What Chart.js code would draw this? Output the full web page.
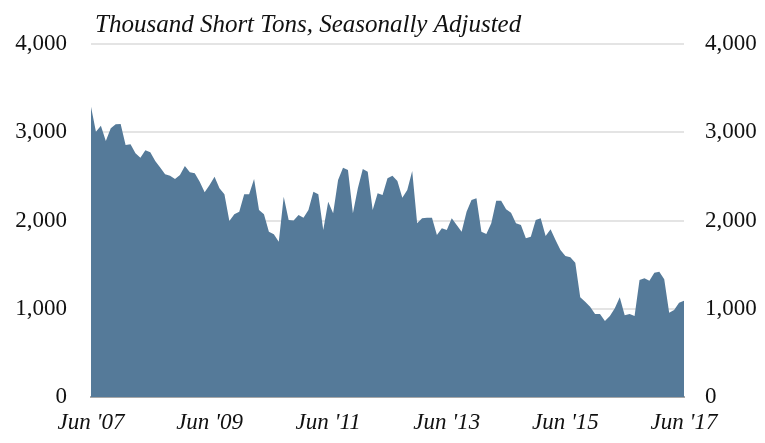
<!DOCTYPE html>
<html>
<head>
<meta charset="utf-8">
<script src="https://cdn.jsdelivr.net/npm/chart.js@4.4.1/dist/chart.umd.min.js"></script>
<style>
  html, body { margin: 0; padding: 0; background: #fff; }
  #wrap { width: 765px; height: 443px; }
</style>
</head>
<body>
<div id="wrap"><canvas id="chart" width="765" height="443"></canvas></div>
<script>
// Monthly shipments, Jun 2007 .. Jun 2017 (thousand short tons, SA)
const tons = [
  3290, 3006, 3075, 2900, 3045, 3090, 3094, 2855, 2863, 2762,
  2712, 2795, 2773, 2675, 2600, 2523, 2508, 2470, 2515, 2618,
  2546, 2535, 2440, 2320, 2402, 2496, 2365, 2297, 1994, 2070,
  2100, 2297, 2297, 2470, 2119, 2070, 1873, 1843, 1760, 2270,
  2005, 2000, 2062, 2032, 2119, 2326, 2297, 1892, 2213, 2082,
  2459, 2598, 2572, 2082, 2365, 2584, 2553, 2119, 2308, 2289,
  2478, 2508, 2448, 2259, 2346, 2561, 1968, 2025, 2032, 2032,
  1836, 1912, 1892, 2025, 1949, 1873, 2100, 2232, 2251, 1873,
  1847, 1968, 2224, 2224, 2127, 2088, 1968, 1949, 1798, 1817,
  2005, 2025, 1824, 1900, 1779, 1666, 1598, 1583, 1522, 1130,
  1080, 1023, 940, 940, 861, 918, 1005, 1130, 926, 940,
  918, 1326, 1345, 1318, 1409, 1420, 1334, 955, 986, 1068,
  1090
];

const monthNames = ['Jan', 'Feb', 'Mar', 'Apr', 'May', 'Jun', 'Jul', 'Aug', 'Sep', 'Oct', 'Nov', 'Dec'];
const startYear = 2007;
const startMonth = 5; // June
const tickEvery = 24; // label every second June

const titleText = 'Thousand Short Tons, Seasonally Adjusted';
const serif = "'Liberation Serif', 'Times New Roman', serif";

// month labels like "Jun '07"
const months = tons.map((v, i) => {
  const m = (startMonth + i) % 12;
  const y = startYear + Math.floor((startMonth + i) / 12);
  return monthNames[m] + " '" + String(y).slice(2);
});

// italic caption above the plot, aligned with the plot's left edge
const captionPlugin = {
  id: 'caption',
  afterDraw(chart) {
    const ctx = chart.ctx;
    ctx.save();
    ctx.font = 'italic 25px ' + serif;
    ctx.fillStyle = '#111';
    ctx.textBaseline = 'alphabetic';
    ctx.fillText(titleText, chart.chartArea.left + 4, 32);
    ctx.restore();
  }
};

const tickFont = { family: serif, size: 23 };

new Chart(document.getElementById('chart'), {
  type: 'line',
  data: {
    labels: months,
    datasets: [{
      data: tons,
      fill: 'origin',
      backgroundColor: '#557a99',
      borderWidth: 0,
      pointRadius: 0,
      tension: 0
    }]
  },
  options: {
    responsive: false,
    animation: false,
    layout: { padding: { top: 44, left: 0, right: 0, bottom: 0 } },
    plugins: { legend: { display: false }, tooltip: { enabled: false } },
    scales: {
      x: {
        offset: false,
        grid: { display: false, drawTicks: false },
        border: { display: true, color: '#a8a8a8', width: 2 },
        ticks: {
          autoSkip: false,
          maxRotation: 0,
          minRotation: 0,
          padding: 12,
          color: '#111',
          font: { family: serif, size: 23, style: 'italic' },
          callback: function (value, index) {
            return index % tickEvery === 0 ? this.getLabelForValue(value) : null;
          }
        },
        afterFit(scale) { scale.height = 46; }
      },
      y: {
        position: 'left',
        min: 0,
        max: 4000,
        grid: { color: '#e4e4e4', lineWidth: 2, drawTicks: false },
        border: { display: false },
        ticks: {
          stepSize: 1000,
          padding: 24,
          color: '#111',
          font: tickFont,
          callback: v => v.toLocaleString('en-US')
        },
        afterFit(scale) { scale.width = 91; }
      },
      y2: {
        position: 'right',
        min: 0,
        max: 4000,
        grid: { display: false, drawTicks: false },
        border: { display: false },
        ticks: {
          stepSize: 1000,
          padding: 21,
          color: '#111',
          font: tickFont,
          callback: v => v.toLocaleString('en-US')
        },
        afterFit(scale) { scale.width = 81; }
      }
    }
  },
  plugins: [captionPlugin]
});
</script>
</body>
</html>
